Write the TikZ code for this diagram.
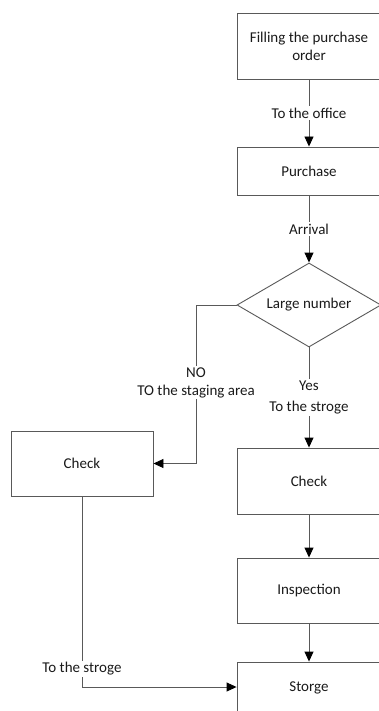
\documentclass[tikz,border=0pt]{standalone}
\usepackage{fontspec}
\setmainfont{Carlito}
\usetikzlibrary{shapes.geometric,arrows.meta}
\definecolor{edgegray}{HTML}{595959}
\definecolor{txt}{HTML}{1A1A1A}
\tikzset{
  stepbox/.style={draw=edgegray, line width=0.9pt, fill=white, rectangle, inner sep=0pt,
    minimum width=144pt, text=txt, align=center, font=\fontsize{15}{18}\selectfont},
  decision/.style={draw=edgegray, line width=0.9pt, fill=white, diamond, inner sep=0pt,
    aspect=1.714, minimum width=144pt, minimum height=84pt, text=txt, font=\fontsize{15}{18}\selectfont},
  flow/.style={draw=edgegray, line width=0.9pt, -{Triangle[color=black, length=10pt, width=9pt]}},
  lbl/.style={fill=white, text=txt, align=center, inner sep=1.5pt, font=\fontsize{15}{18}\selectfont}
}
\begin{document}
\begin{tikzpicture}[x=1pt, y=-1pt]
\useasboundingbox (0,0) rectangle (378,711);

% main column
\node[stepbox, minimum height=66pt] (order) at (309,46) {Filling the purchase\\order};
\node[stepbox, minimum height=48pt] (purchase) at (309,171) {Purchase};
\node[decision] (large) at (309,305) {Large number};
\node[stepbox, minimum height=66pt] (checkR) at (309,481) {Check};
\node[stepbox, minimum height=65pt] (inspect) at (309,590.5) {Inspection};
\node[stepbox, minimum height=52pt] (store) at (309,688) {Storge};

% side branch
\node[stepbox, minimum width=142pt, minimum height=65pt] (checkL) at (82,463.5) {Check};

\coordinate (noTurn) at (196,305);
\coordinate (noDown) at (196,463.5);
\coordinate (backTurn) at (82,687);

% connectors, each label sitting on its line
\draw[flow] (order.south) -- node[lbl] {To the office} (purchase.north);
\draw[flow] (purchase.south) -- node[lbl] {Arrival} (large.north);
\draw[flow] (large.south) -- node[lbl, pos=0.5, font=\fontsize{15}{21}\selectfont] {Yes\\To the stroge} (checkR.north);
\draw[flow] (checkR.south) -- (inspect.north);
\draw[flow] (inspect.south) -- (store.north);
\draw[flow] (large.west) -- (noTurn) -- node[lbl, pos=0.49] {NO\\TO the staging area} (noDown) -- (checkL.east);
\draw[flow] (checkL.south) -- node[lbl, pos=0.905] {To the stroge} (backTurn) -- (store.west |- backTurn);
\end{tikzpicture}
\end{document}
